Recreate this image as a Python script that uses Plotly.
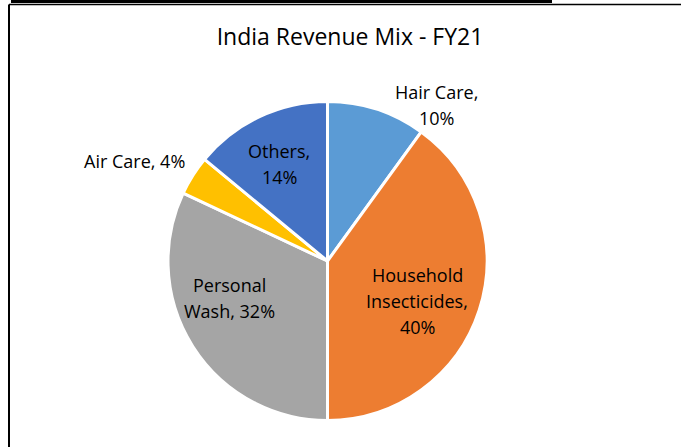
import plotly.graph_objects as go

labels = ["Hair Care", "Household Insecticides", "Personal Wash", "Air Care", "Others"]
values = [10, 40, 32, 4, 14]
colors = ["#5B9BD5", "#ED7D31", "#A5A5A5", "#FFC000", "#4472C4"]
# how each data label is wrapped (line breaks only)
label_lines = [
    ["Hair Care,", "{v}%"],
    ["Household", "Insecticides,", "{v}%"],
    ["Personal", "Wash, {v}%"],
    ["Air Care, {v}%"],
    ["Others,", "{v}%"],
]
# label centres in pixels (x from left, y from top)
label_pos = [(436, 105), (417, 301), (229, 298), (134, 161), (279, 164)]

FONT = "Open Sans"
W, H = 681, 447
LINE_H = 26

fig = go.Figure(go.Pie(
    labels=labels, values=values, sort=False, direction="clockwise", rotation=0,
    marker=dict(colors=colors, line=dict(color="white", width=3)),
    textinfo="none",
    domain=dict(x=[168 / W, 487 / W], y=[1 - 420.5 / H, 1 - 101.5 / H]),
    showlegend=False, hoverinfo="label+percent",
))

annotations = []
for lines, v, (cx, cy) in zip(label_lines, values, label_pos):
    n = len(lines)
    for i, ln in enumerate(lines):
        y_px = cy + (i - (n - 1) / 2) * LINE_H
        annotations.append(dict(
            text=ln.format(v=v), xref="paper", yref="paper",
            x=cx / W, y=1 - y_px / H, xanchor="center", yanchor="middle",
            showarrow=False, font=dict(family=FONT, size=18, color="#000000"),
        ))

fig.update_layout(
    width=W, height=H, margin=dict(l=0, r=0, t=0, b=0),
    paper_bgcolor="white", plot_bgcolor="white",
    title=dict(text="India Revenue Mix - FY21", x=350 / W, xanchor="center", y=1 - 37 / H, yanchor="middle",
               font=dict(family=FONT, size=23, color="#000000")),
    annotations=annotations,
    shapes=[
        dict(type="line", xref="paper", yref="paper", x0=11 / W, x1=552 / W, y0=1 - 1.5 / H, y1=1 - 1.5 / H,
             line=dict(color="black", width=3)),
        dict(type="line", xref="paper", yref="paper", x0=9 / W, x1=1, y0=1 - 4.5 / H, y1=1 - 4.5 / H,
             line=dict(color="black", width=1.5)),
        dict(type="line", xref="paper", yref="paper", x0=9 / W, x1=9 / W, y0=0, y1=1 - 4.5 / H,
             line=dict(color="black", width=2)),
    ],
)

fig.write_html(
    "out.html",
    config={"displayModeBar": False},
    post_script="document.body.style.margin='0';document.body.style.overflow='hidden';",
)
